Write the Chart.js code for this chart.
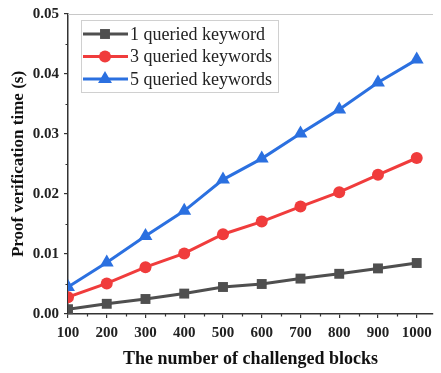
<!DOCTYPE html>
<html>
<head>
<meta charset="utf-8">
<script src="https://cdn.jsdelivr.net/npm/chart.js@4/dist/chart.umd.min.js"></script>
<style>
  html, body { margin: 0; padding: 0; background: #fff; }
  #wrap { width: 441px; height: 373px; }
</style>
</head>
<body>
<div id="wrap"><canvas id="chart" width="441" height="373"></canvas></div>
<script>
// challenged blocks on the x axis
const blocks = [100, 200, 300, 400, 500, 600, 700, 800, 900, 1000];

// verification time in seconds
const oneKeyword   = [0.0008, 0.0017, 0.0025, 0.0034, 0.0045, 0.0050, 0.0059, 0.0067, 0.0076, 0.0085];
const threeKeyword = [0.0028, 0.0051, 0.0078, 0.0101, 0.0133, 0.0154, 0.0179, 0.0203, 0.0232, 0.0260];
const fiveKeyword  = [0.0045, 0.0086, 0.0130, 0.0172, 0.0224, 0.0259, 0.0301, 0.0341, 0.0386, 0.0424];

const seriesNames = ["1 queried keyword", "3 queried keywords", "5 queried keywords"];

const serif = "'Liberation Serif', 'Times New Roman', serif";
const axisColor = "#333";

function toPoints(values) {
    return blocks.map((b, i) => ({ x: b, y: values[i] }));
}

function makeSet(label, values, color, style, radius) {
    return {
        label: label,
        data: toPoints(values),
        borderColor: color,
        backgroundColor: color,
        borderWidth: 3,
        pointStyle: style,
        pointRadius: radius,
        pointHoverRadius: radius,
        pointBorderWidth: 0,
        tension: 0,
        clip: { left: 0, top: false, right: false, bottom: false }
    };
}

// small in-between ticks and the light frame line on top
const frame = {
    id: "frame",
    afterDraw(chart) {
        const ctx = chart.ctx;
        const area = chart.chartArea;
        const xs = chart.scales.x;
        const ys = chart.scales.y;
        ctx.save();
        ctx.strokeStyle = "#c8c8c8";
        ctx.lineWidth = 1.2;
        ctx.beginPath();
        ctx.moveTo(area.left, area.top + 0.5);
        ctx.lineTo(area.right, area.top + 0.5);
        ctx.stroke();

        ctx.strokeStyle = axisColor;
        ctx.lineWidth = 1.2;
        ctx.beginPath();
        for (let v = 150; v <= 1000; v += 100) {
            const px = Math.round(xs.getPixelForValue(v)) + 0.5;
            ctx.moveTo(px, area.bottom);
            ctx.lineTo(px, area.bottom + 2.5);
        }
        for (let v = 0.005; v < 0.05; v += 0.01) {
            const py = Math.round(ys.getPixelForValue(v)) + 0.5;
            ctx.moveTo(area.left, py);
            ctx.lineTo(area.left - 2.5, py);
        }
        ctx.stroke();
        ctx.restore();
    }
};

// legend box inside the plot
const boxLegend = {
    id: "boxLegend",
    afterDraw(chart) {
        const ctx = chart.ctx;
        const x0 = 81, y0 = 20, w = 197, h = 72;
        ctx.save();
        ctx.fillStyle = "#fff";
        ctx.fillRect(x0, y0, w, h);
        ctx.strokeStyle = "#d0d0d0";
        ctx.lineWidth = 1;
        ctx.strokeRect(x0 + 0.5, y0 + 0.5, w, h);

        ctx.font = "18px " + serif;
        ctx.textBaseline = "middle";
        chart.data.datasets.forEach((ds, i) => {
            const y = 34 + i * 22.5;
            ctx.strokeStyle = ds.borderColor;
            ctx.lineWidth = 3;
            ctx.beginPath();
            ctx.moveTo(83, y);
            ctx.lineTo(128, y);
            ctx.stroke();
            ctx.fillStyle = ds.backgroundColor;
            Chart.helpers.drawPoint(ctx, {
                pointStyle: ds.pointStyle,
                radius: ds.pointRadius,
                borderWidth: 0
            }, 105, y);
            ctx.fillStyle = "#222";
            ctx.fillText(ds.label, 130, y + 1);
        });
        ctx.restore();
    }
};

new Chart(document.getElementById("chart"), {
    type: "line",
    data: {
        datasets: [
            makeSet(seriesNames[0], oneKeyword, "#4f4f4f", "rect", 7),
            makeSet(seriesNames[1], threeKeyword, "#f03c3c", "circle", 6),
            makeSet(seriesNames[2], fiveKeyword, "#2b70e0", "triangle", 8)
        ]
    },
    options: {
        responsive: false,
        animation: false,
        layout: { padding: { top: 13, right: 0, left: 0, bottom: 0 } },
        plugins: {
            legend: { display: false },
            tooltip: { enabled: false }
        },
        scales: {
            x: {
                type: "linear",
                min: 100,
                max: 1042,
                afterFit(scale) { scale.height = 59; },
                afterBuildTicks(scale) {
                    scale.ticks = blocks.map(v => ({ value: v }));
                },
                border: { color: axisColor, width: 1.5 },
                grid: { drawOnChartArea: false, tickLength: 4, color: axisColor, lineWidth: 1.2 },
                ticks: {
                    color: "#222",
                    padding: 6,
                    maxRotation: 0,
                    font: { family: serif, size: 15, weight: "bold" },
                    callback: v => String(v)
                },
                title: {
                    display: true,
                    text: "The number of challenged blocks",
                    color: "#111",
                    padding: { top: 3, bottom: 3 },
                    font: { family: serif, size: 18, weight: "bold" }
                }
            },
            y: {
                min: 0,
                max: 0.05,
                afterFit(scale) { scale.width = 68; },
                border: { color: axisColor, width: 1.5 },
                grid: { drawOnChartArea: false, tickLength: 4, color: axisColor, lineWidth: 1.2 },
                ticks: {
                    stepSize: 0.01,
                    color: "#222",
                    padding: 5,
                    font: { family: serif, size: 15, weight: "bold" },
                    callback: v => v.toFixed(2)
                },
                title: {
                    display: true,
                    text: "Proof verification time (s)",
                    color: "#111",
                    padding: { top: 8, bottom: 0 },
                    font: { family: serif, size: 17, weight: "bold" }
                }
            }
        }
    },
    plugins: [frame, boxLegend]
});
</script>
</body>
</html>
